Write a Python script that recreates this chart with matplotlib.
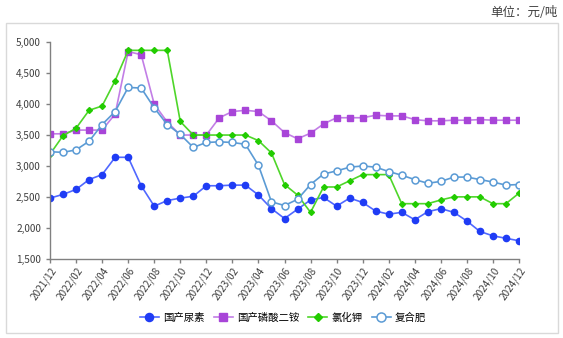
import matplotlib
matplotlib.use("Agg")
import matplotlib.pyplot as plt
from matplotlib.patches import Rectangle
from matplotlib.ticker import FuncFormatter

plt.rcParams['font.family'] = ['Noto Sans CJK SC', 'DejaVu Sans']

# monthly data, 2021/12 .. 2024/12
months = []
for y, m in [(2021, 12)] + [(yy, mm) for yy in (2022, 2023, 2024) for mm in range(1, 13)]:
    months.append(f"{y}/{m:02d}")

urea = [2480, 2540, 2620, 2780, 2860, 3140, 3140, 2680, 2350, 2440,
        2480, 2510, 2680, 2680, 2690, 2690, 2530, 2310, 2150, 2300,
        2450, 2490, 2350, 2480, 2410, 2270, 2220, 2250, 2130, 2260,
        2310, 2250, 2110, 1940, 1870, 1830, 1790]
dap = [3520, 3520, 3580, 3580, 3580, 3840, 4850, 4800, 4000, 3710,
       3500, 3500, 3500, 3780, 3880, 3900, 3880, 3730, 3540, 3440,
       3530, 3680, 3780, 3780, 3780, 3820, 3810, 3810, 3750, 3730,
       3730, 3740, 3740, 3750, 3740, 3740, 3740]
potash = [3190, 3490, 3610, 3900, 3970, 4380, 4870, 4870, 4870, 4870,
          3720, 3500, 3500, 3500, 3500, 3500, 3410, 3210, 2700, 2530,
          2250, 2660, 2660, 2760, 2860, 2860, 2860, 2390, 2390, 2390,
          2450, 2500, 2500, 2500, 2390, 2390, 2560]
compound = [3230, 3220, 3260, 3400, 3670, 3880, 4270, 4260, 3940, 3670,
            3510, 3300, 3380, 3390, 3380, 3350, 3010, 2420, 2360, 2460,
            2700, 2870, 2920, 2980, 3000, 2980, 2910, 2850, 2780, 2720,
            2750, 2820, 2820, 2780, 2740, 2690, 2700]

x = list(range(len(months)))

fig = plt.figure(figsize=(5.63, 3.38), dpi=100)

# outer frame
fig.patches.append(Rectangle((6 / 563, 5 / 338), 552 / 563, 310 / 338,
                             transform=fig.transFigure, fill=False,
                             edgecolor='#d9d9d9', linewidth=1.0))
fig.text(558 / 563, 1 - 12 / 338, '单位：元/吨', ha='right', va='center',
         fontsize=9, color='#404040')

ax = fig.add_axes([50 / 563, 1 - 258.7 / 338, 469 / 563, 216.4 / 338])

ax.plot(x, urea, color='#5068ff', lw=1.2, marker='o', ms=4.5,
        mfc='#1f3cf5', mec='#1f3cf5', label='国产尿素')
ax.plot(x, dap, color='#c27ee6', lw=1.2, marker='s', ms=4.5,
        mfc='#a845d8', mec='#a845d8', label='国产磷酸二铵')
ax.plot(x, potash, color='#4fd62a', lw=1.2, marker='D', ms=3,
        mfc='#22cc00', mec='#22cc00', label='氯化钾')
ax.plot(x, compound, color='#5b9bd5', lw=1.2, marker='o', ms=5,
        mfc='white', mec='#5b9bd5', mew=1.1, label='复合肥')

ax.set_xlim(0, len(months) - 1)
ax.set_ylim(1500, 5000)
ax.set_yticks(range(1500, 5001, 500))
ax.yaxis.set_major_formatter(FuncFormatter(lambda v, p: f"{int(v):,}"))
ax.set_xticks(x[::2])
ax.set_xticklabels(months[::2], rotation=55, ha='right', rotation_mode='anchor')

for s in ('top', 'right'):
    ax.spines[s].set_visible(False)
for s in ('left', 'bottom'):
    ax.spines[s].set_color('#808080')
    ax.spines[s].set_linewidth(1.0)
ax.tick_params(axis='both', colors='#808080', labelcolor='#404040',
               labelsize=7.2, length=3, width=1.0)
ax.tick_params(axis='x', pad=2)

ax.legend(loc='center', bbox_to_anchor=(283 / 563, 1 - 318 / 338),
          bbox_transform=fig.transFigure, ncol=4, frameon=False,
          fontsize=7.5, handlelength=1.8, columnspacing=0.9, handletextpad=0.4,
          markerscale=1.3)

fig.savefig('out.png', dpi=100)
